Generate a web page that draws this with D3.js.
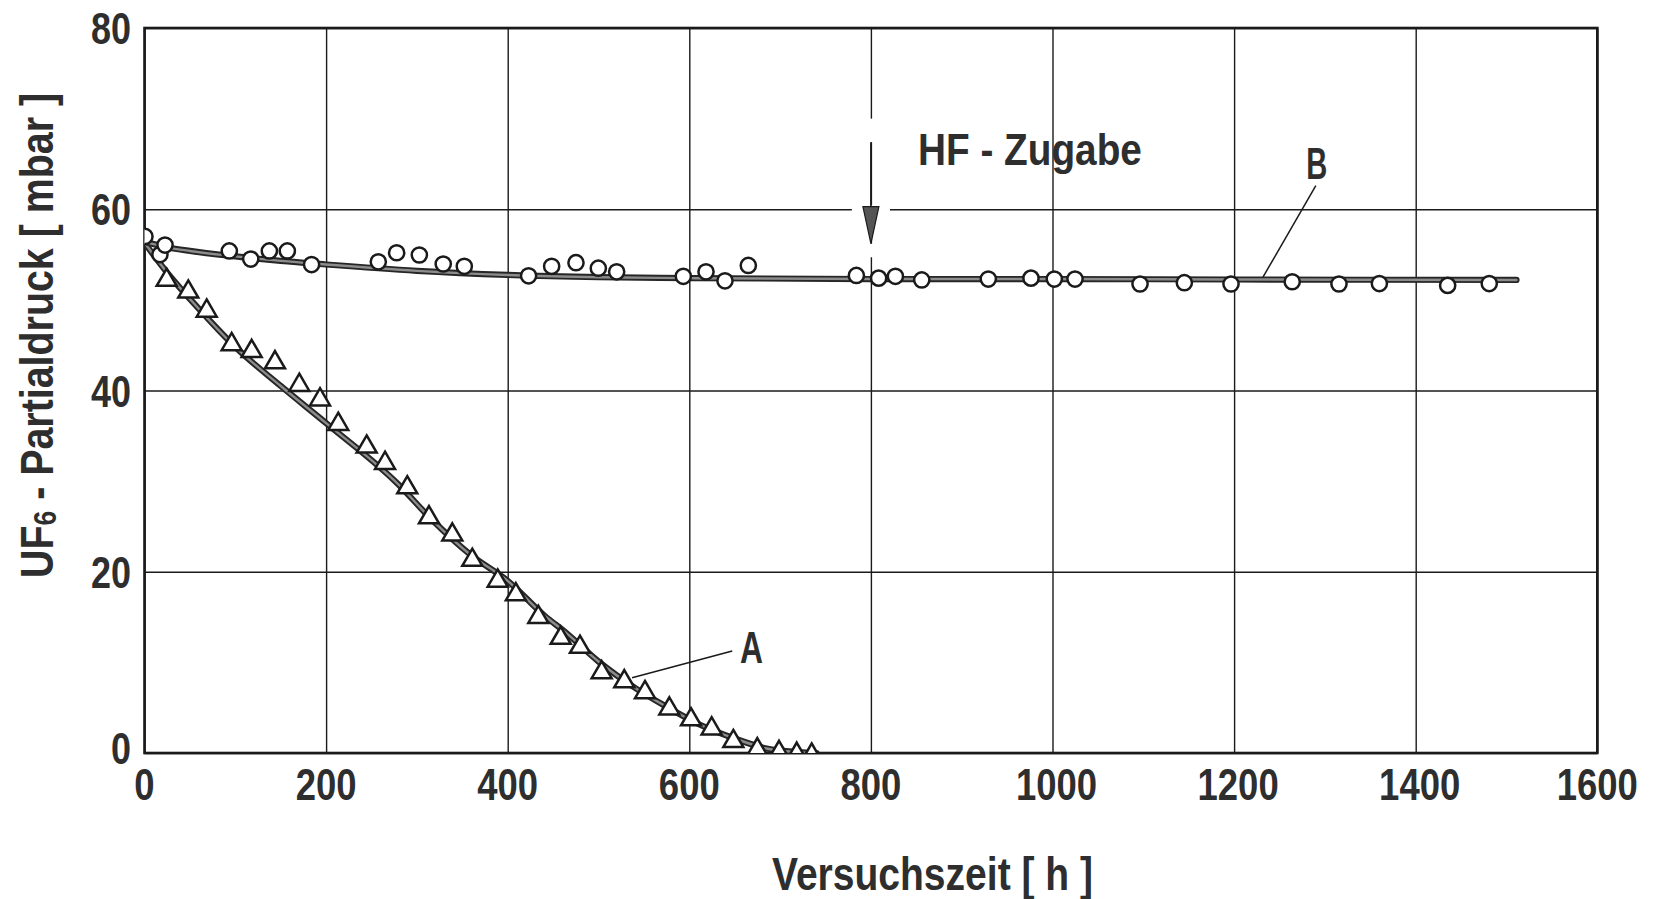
<!DOCTYPE html>
<html><head><meta charset="utf-8">
<script src="https://cdn.jsdelivr.net/npm/d3@7"></script>
<style>
html,body{margin:0;padding:0;background:#fff;}
svg{display:block;}
text{font-family:"Liberation Sans","Arial",sans-serif;font-weight:bold;fill:#2e2e2e;}
</style></head>
<body><svg id="c" width="1657" height="899"></svg>
<script>
// ---- data ----
const xTicks = [0,200,400,600,800,1000,1200,1400,1600];
const yTicks = [0,20,40,60,80];
// Series A (triangles)
const aX = [24.4,48.2,68.5,96,118,143.7,170.5,193.3,213.4,244.7,264.9,289.4,313.3,339,361,389,409,433.7,458.4,479.6,503.5,528.4,551.2,578,601.9,624.6,648.5,674.9,698.8,718.3,734.8];
const aY = [52.5,51.2,49.1,45.4,44.65,43.4,40.9,39.3,36.6,34.1,32.3,29.6,26.3,24.4,21.6,19.3,17.8,15.3,13.0,12.0,9.2,8.2,7.0,5.2,4.0,3.0,1.6,0.7,0.4,0.2,0.1];
// Series B (circles)
const bX = [0.5,17,22.6,93.4,117,137.5,157.3,184,257.5,277.7,302.7,329,352.2,423,448.4,475.2,499.8,520,593.4,618.4,639.3,665,784,808.5,827,856,929.3,976.3,1002,1024.8,1096.4,1145.2,1196.6,1264,1315.5,1360,1435.2,1481];
const bY = [57.0,55.0,56.05,55.4,54.5,55.4,55.4,53.9,54.2,55.2,54.95,53.96,53.7,52.65,53.7,54.1,53.5,53.1,52.6,53.1,52.1,53.8,52.7,52.4,52.6,52.2,52.3,52.4,52.3,52.3,51.75,51.9,51.75,52.0,51.75,51.8,51.6,51.8];
// fitted curves
const fitAX = [0,25,60,100,150,200,280,315,360,400,440,465,500,540,575,610,650,685,720,740];
const fitAY = [56.3,53.0,49.0,44.8,40.5,36.4,29.6,25.9,21.8,19.0,15.2,13.2,10.1,7.2,5.1,3.2,1.6,0.5,0.1,0];
const fitBX = [0,25,50,100,150,200,300,400,500,600,800,1000,1200,1511];
const fitBY = [56.4,55.8,55.4,54.8,54.3,53.9,53.2,52.75,52.5,52.4,52.3,52.3,52.25,52.2];
// annotations
const arrowX = 800, arrowTop = 67.4, arrowHeadBase = 60.3, arrowTip = 56.2;
const hfLabel = "HF - Zugabe";

// ---- layout ----
const svg = d3.select("#c");
const L = 144.5, T = 28, W = 1452.8, H = 725;
const x = d3.scaleLinear().domain([0,1600]).range([L, L+W]);
const y = d3.scaleLinear().domain([0,80]).range([T+H, T]);

// gridlines
svg.append("g").attr("transform",`translate(0,${T+H})`)
  .call(d3.axisBottom(x).tickValues(xTicks).tickSize(-H).tickFormat(""))
  .call(g=>g.select(".domain").remove())
  .call(g=>g.selectAll("line").attr("stroke","#1a1a1a").attr("stroke-width",1.4));
svg.append("g").attr("transform",`translate(${L},0)`)
  .call(d3.axisLeft(y).tickValues(yTicks).tickSize(-W).tickFormat(""))
  .call(g=>g.select(".domain").remove())
  .call(g=>g.selectAll("line").attr("stroke","#1a1a1a").attr("stroke-width",1.4));

// masks (gaps around arrow)
svg.append("rect").attr("x",x(779)).attr("y",y(60)-4).attr("width",x(821)-x(779)).attr("height",8).attr("fill","#fff");
svg.append("rect").attr("x",x(arrowX)-4).attr("y",y(70)).attr("width",8).attr("height",y(arrowTop)-y(70)).attr("fill","#fff");
svg.append("rect").attr("x",x(arrowX)-4).attr("y",y(arrowTip)).attr("width",8).attr("height",y(54.7)-y(arrowTip)).attr("fill","#fff");

// frame
svg.append("rect").attr("x",L).attr("y",T).attr("width",W).attr("height",H)
  .attr("fill","none").attr("stroke","#1a1a1a").attr("stroke-width",2.6);

// tick labels
svg.append("g").selectAll("text").data(xTicks).join("text")
  .attr("x",d=>x(d)+(d>=1000&&d<1600?4:0)).attr("y",T+H+47)
  .attr("text-anchor","middle").attr("font-size",44)
  .attr("textLength",d=>String(d).length*20.3).attr("lengthAdjust","spacingAndGlyphs")
  .text(d=>d);
svg.append("g").selectAll("text").data(yTicks).join("text")
  .attr("x",131).attr("y",d=>y(d)+16-(d===0?5:0))
  .attr("text-anchor","end").attr("font-size",44)
  .attr("textLength",d=>String(d).length*20).attr("lengthAdjust","spacingAndGlyphs")
  .text(d=>d);

// axis titles
svg.append("text").attr("x",932.5).attr("y",890).attr("text-anchor","middle")
  .attr("font-size",46).attr("textLength",321).attr("lengthAdjust","spacingAndGlyphs")
  .text("Versuchszeit [ h ]");
const yt = svg.append("text").attr("transform","translate(53,335.5) rotate(-90)")
  .attr("text-anchor","middle").attr("font-size",46)
  .attr("textLength",485).attr("lengthAdjust","spacingAndGlyphs");
yt.append("tspan").text("UF");
yt.append("tspan").attr("font-size",31).attr("dy",3).text("6");
yt.append("tspan").attr("dy",-3).text(" - Partialdruck [ mbar ]");

// clip
svg.append("clipPath").attr("id","clip").append("rect").attr("x",L).attr("y",T).attr("width",W).attr("height",H);
const plot = svg.append("g").attr("clip-path","url(#clip)");

const line = d3.line().x(d=>x(d[0])).y(d=>y(d[1])).curve(d3.curveMonotoneX);
const fitA = fitAX.map((v,i)=>[v,fitAY[i]]);
const fitB = fitBX.map((v,i)=>[v,fitBY[i]]);
[fitA, fitB].forEach(pts=>{
  plot.append("path").attr("d",line(pts)).attr("fill","none").attr("stroke","#262626").attr("stroke-width",6.2).attr("stroke-linecap","round");
  plot.append("path").attr("d",line(pts)).attr("fill","none").attr("stroke","#8c8c8c").attr("stroke-width",2.4).attr("stroke-linecap","round");
});

// markers
plot.append("g").selectAll("path").data(aX.map((v,i)=>[v,aY[i]])).join("path")
  .attr("transform",d=>`translate(${x(d[0])},${y(d[1])})`)
  .attr("d","M0,-8.6L10,8.6L-10,8.6Z")
  .attr("fill","#fff").attr("stroke","#1a1a1a").attr("stroke-width",2.5).attr("stroke-linejoin","miter");
plot.append("g").selectAll("circle").data(bX.map((v,i)=>[v,bY[i]])).join("circle")
  .attr("cx",d=>x(d[0])).attr("cy",d=>y(d[1])).attr("r",7.6)
  .attr("fill","#fff").attr("stroke","#1a1a1a").attr("stroke-width",2.5);

// arrow
svg.append("line").attr("x1",x(arrowX)).attr("x2",x(arrowX)).attr("y1",y(arrowTop)).attr("y2",y(arrowHeadBase)+1)
  .attr("stroke","#1a1a1a").attr("stroke-width",1.6);
svg.append("path")
  .attr("d",`M${x(arrowX)-8},${y(arrowHeadBase)}L${x(arrowX)+8},${y(arrowHeadBase)}L${x(arrowX)},${y(arrowTip)}Z`)
  .attr("fill","#555").attr("stroke","#1a1a1a").attr("stroke-width",1.2);
svg.append("text").attr("x",x(851.8)).attr("y",y(64.9)).attr("font-size",44)
  .attr("textLength",224).attr("lengthAdjust","spacingAndGlyphs").text(hfLabel);

// series labels with leaders
svg.append("line").attr("x1",x(647.3)).attr("y1",y(11.25)).attr("x2",x(537)).attr("y2",y(8.3)).attr("stroke","#1a1a1a").attr("stroke-width",1.5);
svg.append("text").attr("x",x(668.5)).attr("y",y(9.93)).attr("text-anchor","middle").attr("font-size",44)
  .attr("textLength",23).attr("lengthAdjust","spacingAndGlyphs").text("A");
svg.append("line").attr("x1",x(1290)).attr("y1",y(62.6)).attr("x2",x(1231.8)).attr("y2",y(52.5)).attr("stroke","#1a1a1a").attr("stroke-width",1.5);
svg.append("text").attr("x",x(1291)).attr("y",y(63.3)).attr("text-anchor","middle").attr("font-size",44)
  .attr("textLength",21).attr("lengthAdjust","spacingAndGlyphs").text("B");
</script></body></html>
